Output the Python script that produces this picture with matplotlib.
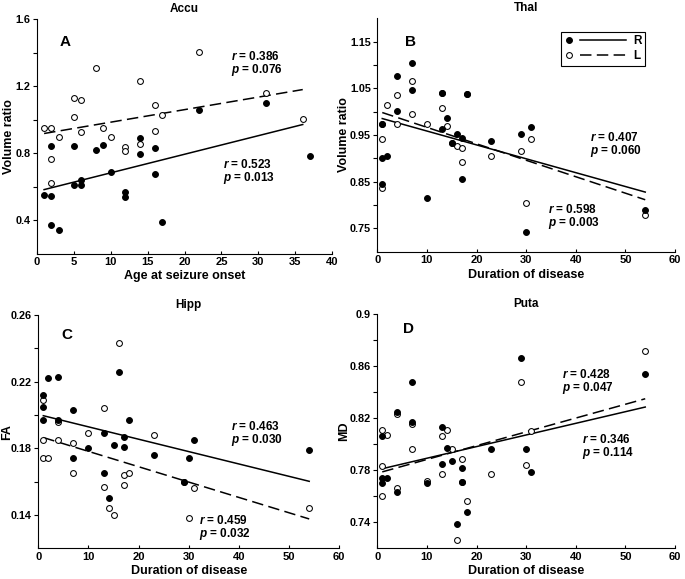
import numpy as np
import matplotlib
matplotlib.use('Agg')
from matplotlib import pyplot as plt
from matplotlib.lines import Line2D
from matplotlib.legend_handler import HandlerBase

plt.rcParams['font.family'] = ['Liberation Sans', 'DejaVu Sans']
plt.rcParams['font.weight'] = 'bold'
plt.rcParams['mathtext.fontset'] = 'custom'
plt.rcParams['mathtext.it'] = 'Liberation Sans:italic:bold'
plt.rcParams['mathtext.rm'] = 'Liberation Sans:bold'

# ---------------- data ----------------
# A: accumbens volume ratio vs age at seizure onset
onset_R = [1, 2, 2, 3, 2, 5, 5, 6, 6, 8, 9, 10, 12, 12, 14, 14, 16, 16, 17, 22, 31, 37]
accu_R = [0.550, 0.543, 0.371, 0.343, 0.844, 0.844, 0.610, 0.640, 0.610, 0.818, 0.848,
          0.688, 0.570, 0.540, 0.892, 0.794, 0.830, 0.674, 0.390, 1.059, 1.097, 0.782]
onset_L = [1, 2, 2, 2, 3, 5, 5, 6, 6, 8, 9, 10, 12, 12, 14, 14, 16, 16, 17, 22, 31, 36]
accu_L = [0.950, 0.950, 0.762, 0.622, 0.898, 1.129, 1.017, 1.119, 0.929, 1.309, 0.950,
          0.898, 0.834, 0.812, 1.230, 0.856, 1.087, 0.935, 1.028, 1.406, 1.160, 1.004]

# B-D: duration of disease (same subjects in every panel)
duration = [1, 1, 1, 2, 4, 4, 7, 7, 10, 13, 13, 14, 15, 16, 17, 17, 18, 23, 29, 30, 31, 54]

thal_R = [0.974, 0.901, 0.845, 0.905, 1.077, 1.001, 1.104, 1.046, 0.816, 1.041, 0.963,
          0.986, 0.934, 0.952, 0.943, 0.855, 1.039, 0.937, 0.952, 0.743, 0.967, 0.790]
thal_L = [0.942, 0.836, 0.974, 1.014, 1.036, 0.973, 1.066, 0.995, 0.973, 1.009, 1.040,
          0.969, 0.934, 0.926, 0.923, 0.892, 1.038, 0.905, 0.916, 0.804, 0.942, 0.779]

hipp_R = [0.212, 0.205, 0.197, 0.222, 0.223, 0.197, 0.203, 0.174, 0.180, 0.189, 0.165,
          0.150, 0.182, 0.226, 0.187, 0.181, 0.197, 0.176, 0.160, 0.174, 0.185, 0.179]
hipp_L = [0.209, 0.185, 0.174, 0.174, 0.196, 0.185, 0.183, 0.165, 0.189, 0.204, 0.157,
          0.144, 0.140, 0.243, 0.164, 0.158, 0.165, 0.188, 0.160, 0.138, 0.156, 0.144]

puta_R = [0.806, 0.774, 0.770, 0.774, 0.825, 0.763, 0.848, 0.817, 0.770, 0.813, 0.785,
          0.797, 0.787, 0.739, 0.782, 0.771, 0.748, 0.796, 0.866, 0.796, 0.779, 0.854]
puta_L = [0.811, 0.783, 0.760, 0.807, 0.823, 0.766, 0.796, 0.816, 0.772, 0.806, 0.777,
          0.811, 0.796, 0.726, 0.789, 0.771, 0.756, 0.777, 0.848, 0.784, 0.810, 0.872]

stats_A = ['0.523', '0.013', '0.386', '0.076']
stats_B = ['0.598', '0.003', '0.407', '0.060']
stats_C = ['0.463', '0.030', '0.459', '0.032']
stats_D = ['0.346', '0.114', '0.428', '0.047']

yticks_A = [0.4, 0.8, 1.2, 1.6]
yticks_B = [0.75, 0.85, 0.95, 1.05, 1.15]
yticks_C = [0.14, 0.18, 0.22, 0.26]
yticks_D = [0.74, 0.78, 0.82, 0.86, 0.90]
ylabels_D = ['0.74', '0.78', '0.82', '0.86', '0.9']


class MarkerThenLine(HandlerBase):
    # marker on the left, then the line segment (as in the original legend)
    def create_artists(self, legend, orig_handle, xdescent, ydescent,
                       width, height, fontsize, trans):
        y = height / 2 - ydescent
        x0 = -xdescent
        dot = Line2D([x0 + 0.08 * width], [y])
        dot.update_from(orig_handle)
        dot.set_linestyle('None')
        seg = Line2D([x0 + 0.26 * width, x0 + width], [y, y])
        seg.update_from(orig_handle)
        seg.set_marker('None')
        for a in (dot, seg):
            a.set_transform(trans)
        return [dot, seg]


ms = 4.2
dash = (0, (7.5, 3.5))


def panel(ax, xR, yR, xL, yL, span, title, letter, xlabel, ylabel, ylab_x, stats, pos_R, pos_L):
    ax.plot(xL, yL, 'o', ms=ms, mfc='white', mec='k', mew=0.75, zorder=3)
    ax.plot(xR, yR, 'o', ms=ms, mfc='k', mec='k', mew=0.75, zorder=4)
    xs = np.array(span, dtype=float)
    bR = np.polyfit(xR, yR, 1)
    bL = np.polyfit(xL, yL, 1)
    ax.plot(xs, np.polyval(bR, xs), color='k', lw=1.1, zorder=2)
    ax.plot(xs, np.polyval(bL, xs), color='k', lw=1.1, ls=dash, zorder=2)

    for s in ['top', 'right']:
        ax.spines[s].set_visible(False)
    for s in ['left', 'bottom']:
        ax.spines[s].set_linewidth(0.8)
    ax.tick_params(axis='y', which='both', direction='out', labelsize=7.8, pad=1.5, width=0.8)
    ax.tick_params(axis='y', which='major', length=3)
    ax.tick_params(axis='y', which='minor', length=3)
    ax.tick_params(axis='x', direction='in', length=2.5, labelsize=8, pad=2.5, width=0.8)
    ax.set_xlabel(xlabel, fontsize=9, fontweight='bold', labelpad=2.5)
    ax.set_ylabel(ylabel, fontsize=9, fontweight='bold')
    ax.yaxis.set_label_coords(ylab_x, 0.5)

    ax.text(0.5, 1.043, title, transform=ax.transAxes, ha='center', va='center',
            fontsize=8.5, fontweight='bold')
    ax.text(letter[1], letter[2], letter[0], transform=ax.transAxes, ha='center',
            va='center', fontsize=11, fontweight='bold')
    ax.text(pos_R[0], pos_R[1], '$r$ = ' + stats[0], transform=ax.transAxes,
            ha='left', va='center', fontsize=8.5, fontweight='bold')
    ax.text(pos_R[0], pos_R[1] - 0.058, '$p$ = ' + stats[1], transform=ax.transAxes,
            ha='left', va='center', fontsize=8.5, fontweight='bold')
    ax.text(pos_L[0], pos_L[1], '$r$ = ' + stats[2], transform=ax.transAxes,
            ha='left', va='center', fontsize=8.5, fontweight='bold')
    ax.text(pos_L[0], pos_L[1] - 0.058, '$p$ = ' + stats[3], transform=ax.transAxes,
            ha='left', va='center', fontsize=8.5, fontweight='bold')


fig = plt.figure(figsize=(6.85, 5.79), dpi=100)
W, H = 685.0, 579.0


def rect(l, r, t, b):
    return [l / W, 1 - b / H, (r - l) / W, (b - t) / H]


axA = fig.add_axes(rect(36.7, 332.3, 19.3, 253.5))
axB = fig.add_axes(rect(377.3, 675.0, 18.4, 251.7))
axC = fig.add_axes(rect(38.3, 339.3, 315.0, 548.3))
axD = fig.add_axes(rect(377.3, 675.0, 314.3, 548.3))

panel(axA, onset_R, accu_R, onset_L, accu_L, (min(onset_L), max(onset_L)), 'Accu',
      ('A', 0.096, 0.903), 'Age at seizure onset', 'Volume ratio', -0.075, stats_A,
      (0.630, 0.382), (0.657, 0.843))
axA.set_xlim(0, 40)
axA.set_ylim(0.2, 1.6)
axA.set_xticks(np.arange(0, 41, 5))
axA.set_yticks(yticks_A)
axA.set_yticks([0.6, 1.0, 1.4], minor=True)
axA.set_yticklabels(['%.1f' % v for v in yticks_A], fontweight='bold')

span = (min(duration), max(duration))
panel(axB, duration, thal_R, duration, thal_L, span, 'Thal',
      ('B', 0.110, 0.900), 'Duration of disease', 'Volume ratio', -0.091, stats_B,
      (0.574, 0.182), (0.714, 0.489))
axB.set_xlim(0, 60)
axB.set_ylim(0.70, 1.20)
axB.set_yticks(yticks_B)
axB.set_yticks([0.80, 0.90, 1.00, 1.10], minor=True)
axB.set_yticklabels(['%.2f' % v for v in yticks_B], fontweight='bold')

panel(axC, duration, hipp_R, duration, hipp_L, span, 'Hipp',
      ('C', 0.094, 0.914), 'Duration of disease', 'FA', -0.082, stats_C,
      (0.640, 0.521), (0.535, 0.121))
axC.set_xlim(0, 60)
axC.set_ylim(0.12, 0.26)
axC.set_yticks(yticks_C)
axC.set_yticks([0.16, 0.20, 0.24], minor=True)
axC.set_yticklabels(['%.2f' % v for v in yticks_C], fontweight='bold')

panel(axD, duration, puta_R, duration, puta_L, span, 'Puta',
      ('D', 0.104, 0.936), 'Duration of disease', 'MD', -0.091, stats_D,
      (0.687, 0.467), (0.619, 0.741))
axD.set_xlim(0, 60)
axD.set_ylim(0.72, 0.90)
axD.set_yticks(yticks_D)
axD.set_yticks([0.76, 0.80, 0.84, 0.88], minor=True)
axD.set_yticklabels(ylabels_D, fontweight='bold')

for ax in (axA, axB, axC, axD):
    for lab in ax.get_xticklabels() + ax.get_yticklabels():
        lab.set_fontweight('bold')

hR = Line2D([], [], color='k', lw=1.1, marker='o', ms=ms, mfc='k', mec='k', mew=0.75)
hL = Line2D([], [], color='k', lw=1.1, ls=dash, marker='o', ms=ms, mfc='white', mec='k', mew=0.75)
leg = axB.legend([hR, hL], ['R', 'L'], handler_map={Line2D: MarkerThenLine()},
                 loc='upper right', bbox_to_anchor=(0.899, 0.942), borderaxespad=0,
                 fancybox=False, framealpha=1, edgecolor='k', handlelength=5.2,
                 handletextpad=0.6, labelspacing=0.25, borderpad=0.3,
                 prop={'size': 8.5, 'weight': 'bold'})
leg.get_frame().set_linewidth(0.8)

fig.savefig('out.png', dpi=100)
